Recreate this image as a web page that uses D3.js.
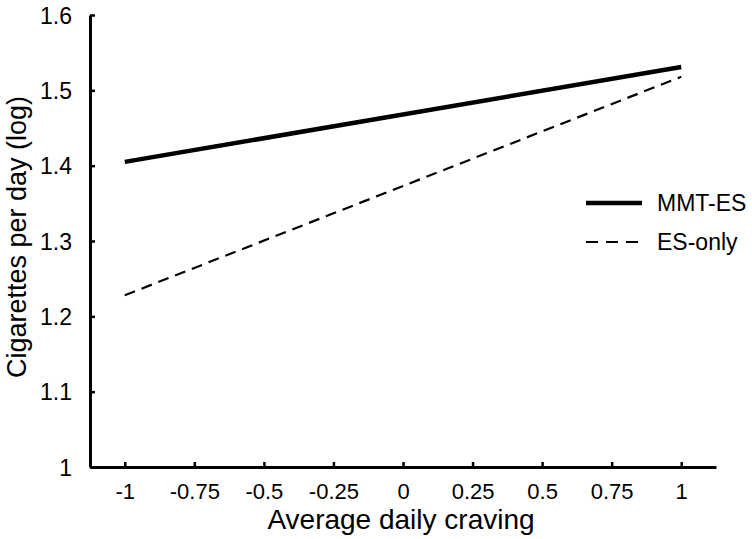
<!DOCTYPE html>
<html><head><meta charset="utf-8">
<script src="https://cdn.jsdelivr.net/npm/d3@7"></script>
<style>body{margin:0;background:#fff}svg{display:block}text{font-family:"Liberation Sans",Arial,Helvetica,sans-serif;fill:#000}</style>
</head><body>
<script>
const xValues = [-1, 1];
const mmtES = [1.405, 1.531];
const esOnly = [1.228, 1.518];
const xTicks = [-1, -0.75, -0.5, -0.25, 0, 0.25, 0.5, 0.75, 1];
const yTicks = [1, 1.1, 1.2, 1.3, 1.4, 1.5, 1.6];
const seriesNames = ["MMT-ES", "ES-only"];

const W = 752, H = 539;
const svg = d3.select("body").append("svg").attr("width", W).attr("height", H);
const x = d3.scaleLinear().domain([-1.125, 1.125]).range([90, 716]);
const y = d3.scaleLinear().domain([1, 1.6]).range([467, 15]);
const fmt = d => String(d);

// axes
const xAxis = svg.append("g").attr("transform", `translate(0,${y(1)})`)
  .call(d3.axisBottom(x).tickValues(xTicks).tickSizeInner(-5).tickSizeOuter(0).tickPadding(12).tickFormat(fmt));
xAxis.attr("font-family", null).attr("font-size", null);
xAxis.select(".domain").attr("stroke-width", 3);
xAxis.selectAll(".tick line").attr("stroke-width", 2.5);
xAxis.selectAll("text").attr("font-size", 22).attr("dy", null).attr("y", 32);

const yAxis = svg.append("g").attr("transform", `translate(${x(-1.125)},0)`)
  .call(d3.axisLeft(y).tickValues(yTicks).tickSizeInner(-5).tickSizeOuter(0).tickPadding(18).tickFormat(fmt));
yAxis.attr("font-family", null).attr("font-size", null);
yAxis.select(".domain").attr("stroke-width", 3);
yAxis.selectAll(".tick line").attr("stroke-width", 2.5);
yAxis.selectAll("text").attr("font-size", 23).attr("dy", "0.36em");

// lines
const line = d3.line().x((d, i) => x(xValues[i])).y(d => y(d));
svg.append("path").datum(mmtES).attr("d", line).attr("fill", "none").attr("stroke", "#000").attr("stroke-width", 4.5);
svg.append("path").datum(esOnly).attr("d", line).attr("fill", "none").attr("stroke", "#000").attr("stroke-width", 2.2).attr("stroke-dasharray", "11,7");

// legend
const legend = svg.append("g");
[[4.5, null], [2.2, "12,8"]].forEach((st, i) => {
  const ly = 203 + i * 39;
  legend.append("line").attr("x1", 586).attr("x2", 642).attr("y1", ly).attr("y2", ly)
    .attr("stroke", "#000").attr("stroke-width", st[0]).attr("stroke-dasharray", st[1]);
  legend.append("text").attr("x", 657).attr("y", ly + 8).attr("font-size", 23).text(seriesNames[i]);
});

// titles
svg.append("text").attr("x", 401).attr("y", 529).attr("text-anchor", "middle").attr("font-size", 28).text("Average daily craving");
svg.append("text").attr("transform", "translate(26,237) rotate(-90)").attr("text-anchor", "middle").attr("font-size", 27).text("Cigarettes per day (log)");
</script>
</body></html>
